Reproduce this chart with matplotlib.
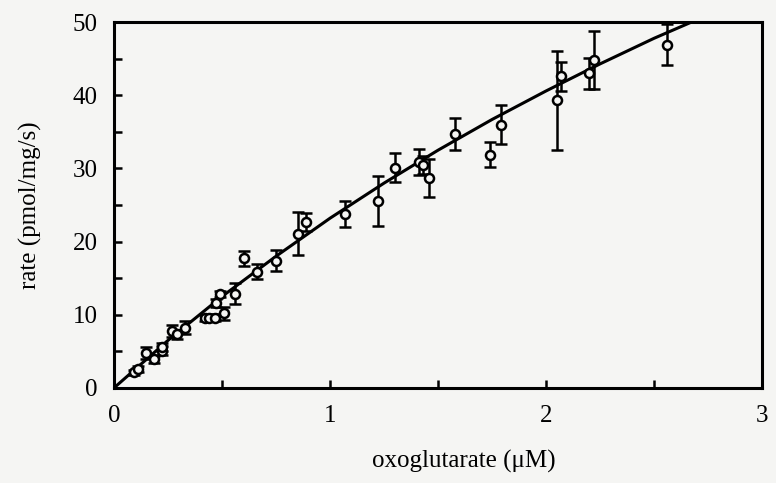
import numpy as np
import matplotlib
matplotlib.use('Agg')
import matplotlib.pyplot as plt

# measured rates with error bars
conc = [0.09, 0.11, 0.15, 0.185, 0.22, 0.22, 0.27, 0.29, 0.33, 0.42, 0.44, 0.465,
        0.47, 0.49, 0.51, 0.56, 0.60, 0.66, 0.75, 0.85, 0.89, 1.07, 1.22, 1.30,
        1.41, 1.43, 1.46, 1.58, 1.74, 1.79, 2.05, 2.07, 2.20, 2.22, 2.56]
rate = [2.1, 2.6, 4.8, 3.9, 5.1, 5.6, 7.8, 7.3, 8.2, 9.6, 9.6, 9.6,
        11.6, 12.8, 10.2, 12.9, 17.7, 15.9, 17.4, 21.1, 22.7, 23.8, 25.6, 30.1,
        30.9, 30.5, 28.7, 34.7, 31.9, 36.0, 39.3, 42.6, 43.0, 44.8, 46.9]
err = [0.4, 0.4, 0.8, 0.5, 0.6, 0.5, 0.8, 0.6, 0.9, 0.4, 0.4, 0.5,
       0.6, 0.4, 0.9, 1.4, 1.0, 1.0, 1.4, 3.0, 1.2, 1.75, 3.4, 2.0,
       1.75, 1.2, 2.6, 2.2, 1.7, 2.7, 6.8, 2.0, 2.1, 4.0, 2.8]

# fitted curve
fit_x = [0, 0.25, 0.5, 0.75, 1.0, 1.25, 1.5, 1.75, 2.0, 2.25, 2.5, 2.75]
fit_y = [0, 6.5, 12.5, 18.0, 23.2, 28.0, 32.5, 36.7, 40.6, 44.3, 47.8, 51.0]

plt.rcParams['font.family'] = ['Liberation Serif', 'DejaVu Serif']

fig = plt.figure(figsize=(7.76, 4.83), dpi=100)
fig.patch.set_facecolor('#f5f5f3')
ax = fig.add_axes([0.147, 0.197, 0.835, 0.757])
ax.set_facecolor('#f5f5f3')

ax.plot(fit_x, fit_y, color='black', lw=2.2)
ax.errorbar(conc, rate, yerr=err, fmt='o', mfc='#f5f5f3', mec='black', mew=1.8,
            ms=6.5, ecolor='black', elinewidth=1.8, capsize=4, capthick=1.8)

ax.set_xlim(0, 3)
ax.set_ylim(0, 50)
ax.set_xticks([0, 1, 2, 3])
ax.set_xticks([0.5, 1.5, 2.5], minor=True)
ax.set_yticks([0, 10, 20, 30, 40, 50])
ax.set_yticks([5, 15, 25, 35, 45], minor=True)
ax.tick_params(which='both', direction='in', length=6, width=1.8,
               top=False, right=False, labelsize=18)
ax.tick_params(axis='x', pad=12)
ax.tick_params(axis='y', pad=12)
for s in ax.spines.values():
    s.set_linewidth(2.2)

ax.set_xlabel('oxoglutarate (\u03bcM)', fontsize=18, labelpad=20)
ax.xaxis.set_label_coords(0.54, -0.17)
ax.set_ylabel('rate (pmol/mg/s)', fontsize=18, labelpad=22)

fig.savefig('out.png', dpi=100, facecolor=fig.get_facecolor())
